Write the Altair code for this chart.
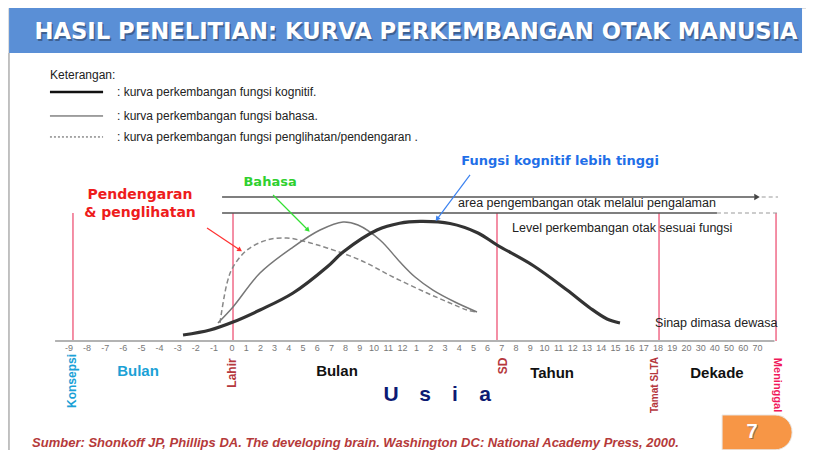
import altair as alt
import pandas as pd

# ---------------- data ----------------
# x = position on the age timeline (1 unit per post-natal tick), y = development level
prenatal_labels = ["-9", "-8", "-7", "-6", "-5", "-4", "-3", "-2", "-1", "0"]
month_labels = [str(i) for i in range(1, 13)]
year_labels = [str(i) for i in range(1, 19)]
decade_labels = ["19", "20", "30", "40", "50", "60", "70"]
PRENATAL_STRETCH = 1.276

cog_u = [-3.45, -1.55, 0.07, 1.97, 4.30, 6.69, 7.82, 10.21, 11.80, 13.24, 15.35, 17.32, 18.66, 21.20, 23.59, 25.21, 26.41, 27.32]
cog_v = [4.7, 8.6, 14.8, 24.2, 37.5, 57.8, 69.5, 86.7, 92.0, 93.4, 91.8, 84.4, 75.0, 59.0, 39.8, 25.8, 17.2, 14.1]

lang_u = [-0.99, 0.07, 1.97, 4.30, 6.20, 7.82, 8.87, 10.42, 11.83, 12.89, 14.15, 15.70, 17.25]
lang_v = [14.1, 26.6, 53.1, 73.4, 86.7, 93.0, 90.6, 78.9, 61.7, 50.0, 39.8, 30.5, 22.7]

perc_u = [-0.85, -0.35, 0.07, 1.06, 2.46, 3.87, 5.28, 6.69, 9.01, 11.34, 13.73, 15.35, 16.55, 17.25]
perc_v = [14.1, 45.3, 57.8, 71.1, 78.9, 80.5, 77.3, 72.7, 63.3, 50.0, 37.5, 29.7, 24.2, 22.7]

milestone_u = [-11.20, 0.07, 18.66, 30.07, 38.31]   # Konsepsi, Lahir, SD, Tamat SLTA, Meninggal

title_text = "HASIL PENELITIAN: KURVA PERKEMBANGAN OTAK MANUSIA"
legend_texts = [": kurva perkembangan fungsi kognitif.",
                ": kurva perkembangan fungsi  bahasa.",
                ": kurva perkembangan fungsi  penglihatan/pendengaran ."]
source_text = "Sumber: Shonkoff JP, Phillips DA. The developing brain. Washington DC: National Academy Press, 2000."

# ---------------- layout ----------------
W, H = 798, 442
X_DOM = [-15.775, 40.42]
Y_DOM = [-85.15625, 260.15625]
xs = alt.Scale(domain=X_DOM, nice=False, zero=False)
ys = alt.Scale(domain=Y_DOM, nice=False, zero=False)
NARROW = "Liberation Sans Narrow, Liberation Sans, sans-serif"
SANS = "Liberation Sans, Arial, sans-serif"
WIDE = "DejaVu Sans, sans-serif"

def X(f="u"):
    return alt.X(f"{f}:Q", scale=xs, axis=None)

def Y(f="v"):
    return alt.Y(f"{f}:Q", scale=ys, axis=None)

# tick positions
tick_rows = []
for lab in prenatal_labels:
    tick_rows.append({"u": int(lab) * PRENATAL_STRETCH, "v": -5.5, "t": lab})
for i, lab in enumerate(month_labels + year_labels + decade_labels, start=1):
    tick_rows.append({"u": i, "v": -5.5, "t": lab})
ticks = pd.DataFrame(tick_rows)

curves = pd.concat([
    pd.DataFrame({"u": cog_u, "v": cog_v, "s": "kognitif"}),
    pd.DataFrame({"u": lang_u, "v": lang_v, "s": "bahasa"}),
    pd.DataFrame({"u": perc_u, "v": perc_v, "s": "penglihatan"}),
])

def line_layer(df, **kw):
    return alt.Chart(df).mark_line(interpolate="catmull-rom", **kw).encode(x=X(), y=Y())

def seg(rows, **kw):
    return alt.Chart(pd.DataFrame(rows)).mark_rule(**kw).encode(x=X("u"), x2="u2:Q", y=Y("v"), y2="v2:Q")

def txt(rows, **kw):
    return alt.Chart(pd.DataFrame(rows)).mark_text(**kw).encode(x=X(), y=Y(), text="t:N")

layers = []

# title band
layers.append(alt.Chart(pd.DataFrame([{"u": -15.70, "u2": 40.14, "v": 260.16, "v2": 225.0}]))
              .mark_rect(color="#5a8fd6").encode(x=X("u"), x2="u2:Q", y=Y("v"), y2="v2:Q"))
layers.append(seg([{"u": -15.70, "u2": -15.70, "v": 225.0, "v2": -85.2}], color="#999", strokeWidth=1))
layers.append(txt([{"u": 12.96, "v": 241.4, "t": title_text}], font=WIDE, fontSize=22.7, fontWeight="bold",
                  color="#2d4466", opacity=0.6, align="center", baseline="middle", dx=1.5, dy=1.5))
layers.append(txt([{"u": 12.96, "v": 241.4, "t": title_text}], font=WIDE, fontSize=22.7, fontWeight="bold",
                  color="white", align="center", baseline="middle"))

# legend block
layers.append(txt([{"u": -12.82, "v": 207.8, "t": "Keterangan:"}], font=NARROW, fontSize=12, color="#222",
                  align="left", baseline="middle"))
layers.append(seg([{"u": -12.82, "u2": -9.08, "v": 194.5, "v2": 194.5}], color="#111", strokeWidth=2.5))
layers.append(seg([{"u": -12.82, "u2": -9.08, "v": 175.8, "v2": 175.8}], color="#444", strokeWidth=1))
layers.append(seg([{"u": -12.82, "u2": -9.08, "v": 159.4, "v2": 159.4}], color="#555", strokeWidth=1, strokeDash=[2, 2]))
layers.append(txt([{"u": -8.10, "v": 194.5, "t": legend_texts[0]},
                   {"u": -8.10, "v": 175.8, "t": legend_texts[1]},
                   {"u": -8.10, "v": 159.4, "t": legend_texts[2]}],
                  font=NARROW, fontSize=12, color="#222", align="left", baseline="middle"))

# milestone lines
layers.append(alt.Chart(pd.DataFrame({"u": milestone_u, "v": 0.0, "v2": 100.0}))
              .mark_rule(color="#f06a88", strokeWidth=1.5).encode(x=X(), y=Y(), y2="v2:Q"))

# horizontal reference lines
layers.append(seg([{"u": -0.70, "u2": 36.8, "v": 112.5, "v2": 112.5}], color="#555", strokeWidth=1.5))
layers.append(seg([{"u": 37.3, "u2": 38.45, "v": 112.5, "v2": 112.5}], color="#999", strokeWidth=1, strokeDash=[4, 3]))
layers.append(alt.Chart(pd.DataFrame([{"u": 36.97, "v": 112.5}])).mark_point(
    shape="triangle-right", filled=True, size=40, color="#444", opacity=1).encode(x=X(), y=Y()))
layers.append(seg([{"u": -0.70, "u2": 34.15, "v": 100.0, "v2": 100.0}], color="#555", strokeWidth=1.5))
layers.append(seg([{"u": 34.15, "u2": 38.45, "v": 100.0, "v2": 100.0}], color="#999", strokeWidth=1, strokeDash=[4, 3]))

# axis line + ticks
layers.append(seg([{"u": -12.46, "u2": 38.2, "v": 0.0, "v2": 0.0}], color="#b3b3b3", strokeWidth=2))
layers.append(alt.Chart(ticks).mark_text(font=SANS, fontSize=9, color="#777", align="center", baseline="middle")
              .encode(x=X(), y=Y(), text="t:N"))

# curves
layers.append(line_layer(curves[curves.s == "penglihatan"], color="#888", strokeWidth=1.5, strokeDash=[5, 3]))
layers.append(line_layer(curves[curves.s == "bahasa"], color="#777", strokeWidth=1.5))
layers.append(line_layer(curves[curves.s == "kognitif"], color="#333", strokeWidth=3.2))

# annotation texts
layers.append(txt([{"u": 15.92, "v": 107.8, "t": "area pengembangan otak melalui pengalaman"},
                   {"u": 19.72, "v": 88.3, "t": "Level perkembangan otak sesuai fungsi"},
                   {"u": 29.79, "v": 14.1, "t": "Sinap dimasa dewasa"}],
                  font=NARROW, fontSize=12.5, color="#222", align="left", baseline="middle"))
layers.append(txt([{"u": 23.10, "v": 140.6, "t": "Fungsi kognitif lebih tinggi"}], font=WIDE, fontSize=13,
                  fontWeight="bold", color="#1f6fe8", align="center", baseline="middle"))
layers.append(txt([{"u": 2.68, "v": 124.2, "t": "Bahasa"}], font=WIDE, fontSize=13,
                  fontWeight="bold", color="#2fd02f", align="center", baseline="middle"))
layers.append(txt([{"u": -6.48, "v": 114.1, "t": "Pendengaran"}, {"u": -6.48, "v": 100.0, "t": "& penglihatan"}],
                  font=WIDE, fontSize=14, fontWeight="bold", color="#ee1c1c", align="center", baseline="middle"))

# arrows
arrows = [
    {"u": 16.76, "v": 129.7, "u2": 14.44, "v2": 95.3, "c": "#3b82f0", "a": 217},
    {"u": 2.89, "v": 114.1, "u2": 5.35, "v2": 86.7, "c": "#33e033", "a": 135},
    {"u": -1.76, "v": 88.3, "u2": 0.56, "v2": 71.1, "c": "#ff3030", "a": 124},
]
for a in arrows:
    layers.append(seg([a], color=a["c"], strokeWidth=1.2))
    layers.append(alt.Chart(pd.DataFrame([{"u": a["u2"], "v": a["v2"]}])).mark_point(
        shape="triangle-up", filled=True, size=30, color=a["c"], opacity=1, angle=a["a"]).encode(x=X(), y=Y()))

# labels below the axis
layers.append(txt([{"u": -11.27, "v": -31.25, "t": "Konsepsi"}], font=NARROW, fontSize=12, fontWeight="bold",
                  color="#1ba1d6", angle=270, align="center", baseline="middle"))
layers.append(txt([{"u": 0.0, "v": -25.0, "t": "Lahir"}, {"u": 19.08, "v": -19.5, "t": "SD"}],
                  font=NARROW, fontSize=12, fontWeight="bold", color="#b5373d", angle=270,
                  align="center", baseline="middle"))
layers.append(txt([{"u": 29.79, "v": -34.4, "t": "Tamat SLTA"}],
                  font=NARROW, fontSize=10, fontWeight="bold", color="#b5373d", angle=270,
                  align="center", baseline="middle"))
layers.append(txt([{"u": 38.38, "v": -34.4, "t": "Meninggal"}], font=NARROW, fontSize=11, fontWeight="bold",
                  color="#f0185a", angle=90, align="center", baseline="middle"))
layers.append(txt([{"u": -6.62, "v": -23.4, "t": "Bulan"}], font=SANS, fontSize=15, fontWeight="bold",
                  color="#1ba1d6", align="center", baseline="middle"))
layers.append(txt([{"u": 7.39, "v": -23.4, "t": "Bulan"}, {"u": 22.54, "v": -25.0, "t": "Tahun"},
                   {"u": 34.15, "v": -25.0, "t": "Dekade"}],
                  font=SANS, fontSize=15, fontWeight="bold", color="#111", align="center", baseline="middle"))
layers.append(txt([{"u": 11.20, "v": -42.2, "t": "U"}, {"u": 13.59, "v": -42.2, "t": "s"},
                   {"u": 15.70, "v": -42.2, "t": "i"}, {"u": 17.82, "v": -42.2, "t": "a"}],
                  font=SANS, fontSize=21, fontWeight="bold", color="#0d1a73", align="center", baseline="middle"))

# footer + page badge
layers.append(txt([{"u": -14.08, "v": -79.7, "t": source_text}], font=NARROW, fontSize=13, fontWeight="bold",
                  fontStyle="italic", color="#b53a3a", align="left", baseline="middle"))
layers.append(alt.Chart(pd.DataFrame([{"u": 34.51, "u2": 39.44, "v": -57.8, "v2": -85.0}]))
              .mark_rect(color="#f79646", cornerRadiusTopRight=17, cornerRadiusBottomRight=17,
                         stroke="#e8e8e8", strokeWidth=1)
              .encode(x=X("u"), x2="u2:Q", y=Y("v"), y2="v2:Q"))
layers.append(txt([{"u": 36.62, "v": -71.1, "t": "7"}], font=SANS, fontSize=20, fontWeight="bold",
                  color="#555", opacity=0.6, align="center", baseline="middle", dx=1, dy=1))
layers.append(txt([{"u": 36.62, "v": -71.1, "t": "7"}], font=SANS, fontSize=20, fontWeight="bold",
                  color="white", align="center", baseline="middle"))

chart = alt.layer(*layers).properties(
    width=W, height=H, padding=0, autosize=alt.AutoSizeParams(type="none")
).configure_view(stroke=None).configure(background="white")

chart.save("out.html", embed_options={"renderer": "svg", "actions": False})
